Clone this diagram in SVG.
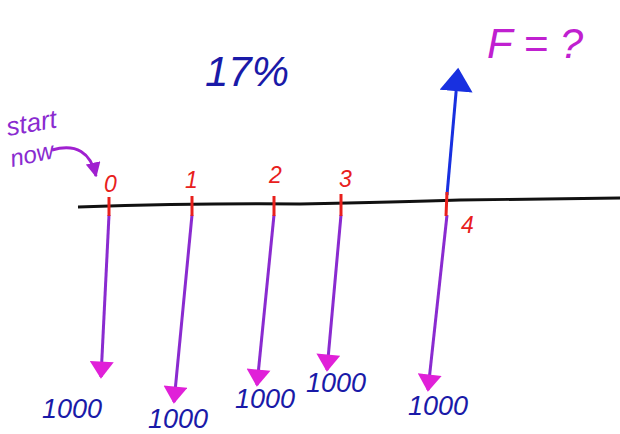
<svg xmlns="http://www.w3.org/2000/svg" width="620" height="434" viewBox="0 0 620 434">
<style>
.red{fill:#e8201c;font-family:"Liberation Sans",sans-serif;font-size:23px;font-style:italic}
.tick{stroke:#e8201c;stroke-width:3}
.pur{stroke:#8a2bd0;stroke-width:3;fill:none}
.amt{fill:#1a1aa8;font-family:"Liberation Sans",sans-serif;font-size:27px;font-style:italic}
</style>
<defs>
<marker id="mh" viewBox="0 0 10 14" refX="9" refY="7" markerWidth="6" markerHeight="8" orient="auto" markerUnits="strokeWidth">
<path d="M0,0 L10,7 L0,14 Z" fill="#e020d8"/>
</marker>
<marker id="bh" viewBox="0 0 10 14" refX="9" refY="7" markerWidth="8" markerHeight="11" orient="auto" markerUnits="strokeWidth">
<path d="M0,0 L10,7 L0,14 Z" fill="#1830e0"/>
</marker>
<marker id="sh" viewBox="0 0 10 10" refX="9" refY="5" markerWidth="5" markerHeight="5" orient="auto" markerUnits="strokeWidth">
<path d="M0,0 L10,5 L0,10 Z" fill="#a020d0"/>
</marker>
</defs>
<rect width="620" height="434" fill="#fff"/>
<g id="timeline">
<path d="M78,207 Q200,203 300,204 Q400,202 460,200 L620,198" stroke="#111" stroke-width="3" fill="none"/>
</g>
<g id="connectors">
<path class="pur" d="M109,215 L101,377" marker-end="url(#mh)"/>
<path class="pur" d="M192,215 L174,402" marker-end="url(#mh)"/>
<path class="pur" d="M274,215 L257,385" marker-end="url(#mh)"/>
<path class="pur" d="M341,215 L327,370" marker-end="url(#mh)"/>
<path class="pur" d="M447,215 L428,390" marker-end="url(#mh)"/>
<path d="M447,195 L458,70" stroke="#1830e0" stroke-width="3" fill="none" marker-end="url(#bh)"/>
<path d="M52,150 Q88,140 96,176" stroke="#a020d0" stroke-width="3" fill="none" marker-end="url(#sh)"/>
</g>
<g id="ticks">
<line class="tick" x1="109" y1="197" x2="109" y2="216"/>
<line class="tick" x1="192" y1="196" x2="192" y2="216"/>
<line class="tick" x1="274" y1="196" x2="274" y2="216"/>
<line class="tick" x1="341" y1="194" x2="341" y2="216"/>
<line class="tick" x1="447" y1="192" x2="446" y2="216"/>
</g>
<g id="t0"><text class="red" x="104" y="192">0</text></g>
<g id="t1"><text class="red" x="185" y="188">1</text></g>
<g id="t2"><text class="red" x="269" y="183">2</text></g>
<g id="t3"><text class="red" x="339" y="187">3</text></g>
<g id="t4"><text class="red" x="461" y="233">4</text></g>
<g id="a0"><text class="amt" x="42" y="418">1000</text></g>
<g id="a1"><text class="amt" x="148" y="428">1000</text></g>
<g id="a2"><text class="amt" x="235" y="408">1000</text></g>
<g id="a3"><text class="amt" x="306" y="392">1000</text></g>
<g id="a4"><text class="amt" x="408" y="415">1000</text></g>
<g id="rate"><text x="205" y="86" fill="#1a1aa8" font-family="Liberation Sans,sans-serif" font-size="42" font-style="italic">17%</text></g>
<g id="future"><text x="487" y="58" fill="#c020d0" font-family="Liberation Sans,sans-serif" font-size="42" font-style="italic">F = ?</text></g>
<g id="start">
<text x="8" y="136" fill="#8a2bd0" font-family="Liberation Sans,sans-serif" font-size="26" font-style="italic" transform="rotate(-10 8 136)">start</text>
<text x="12" y="167" fill="#8a2bd0" font-family="Liberation Sans,sans-serif" font-size="24" font-style="italic" transform="rotate(-12 12 167)">now</text>
</g>
</svg>
